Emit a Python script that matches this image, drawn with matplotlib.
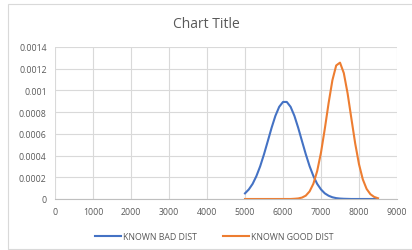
import matplotlib.pyplot as plt
from matplotlib.patches import Rectangle

# values
bad_x = [5000, 5100, 5200, 5300, 5400, 5500, 5600, 5700, 5800, 5900,
         6000, 6100, 6200, 6300, 6400, 6500, 6600, 6700, 6800, 6900,
         7000, 7100, 7200, 7300, 7400, 7500, 7600, 7700, 7800, 7900,
         8000, 8100, 8200, 8300, 8400, 8500]
bad_y = [0.000052, 0.000088, 0.000139, 0.000211, 0.000302, 0.000412,
         0.000533, 0.000656, 0.000766, 0.000849, 0.000894, 0.000894,
         0.000849, 0.000766, 0.000656, 0.000533, 0.000412, 0.000302,
         0.000211, 0.000139, 0.000088, 0.000052, 0.000030, 0.000016,
         0.000008, 0.000004, 0.000002, 0.000001, 0.0, 0.0,
         0.0, 0.0, 0.0, 0.0, 0.0, 0.0]

good_x = bad_x
good_y = [0.0, 0.0, 0.0, 0.0, 0.0, 0.0, 0.0, 0.0, 0.0, 0.0,
          0.0, 0.0, 0.0, 0.000002, 0.000005, 0.000013, 0.000031, 0.00007,
          0.000141, 0.000258, 0.000428, 0.000646, 0.000883, 0.001094,
          0.00123, 0.001256, 0.00116, 0.000973, 0.00074, 0.000511,
          0.00032, 0.000181, 0.000093, 0.000044, 0.000019, 0.000007]

x_ticks = [0, 1000, 2000, 3000, 4000, 5000, 6000, 7000, 8000, 9000]
y_ticks = [0, 0.0002, 0.0004, 0.0006, 0.0008, 0.001, 0.0012, 0.0014]
y_labels = ["0", "0.0002", "0.0004", "0.0006", "0.0008", "0.001", "0.0012", "0.0014"]

plt.rcParams["font.family"] = ["Open Sans", "DejaVu Sans"]
text_color = "#595959"

fig = plt.figure(figsize=(4.12, 2.51), dpi=100)
fig.patches.append(Rectangle((8 / 412, 0.005), 1.0, 1 - 5 / 251 - 0.005,
                             transform=fig.transFigure, fill=False,
                             edgecolor="#d9d9d9", linewidth=0.8))

ax = fig.add_axes([55 / 412, 1 - 200 / 251, 342 / 412, 152 / 251])
ax.plot(bad_x, bad_y, color="#4472c4", linewidth=1.5, label="KNOWN BAD DIST")
ax.plot(good_x, good_y, color="#ed7d31", linewidth=1.5, label="KNOWN GOOD DIST")

ax.set_xlim(0, 9000)
ax.set_ylim(0, 0.0014)
ax.set_xticks(x_ticks)
ax.set_yticks(y_ticks)
ax.set_yticklabels(y_labels)
ax.tick_params(length=0, labelsize=6.3, labelcolor=text_color, pad=6)
ax.grid(True, color="#d9d9d9", linewidth=0.8)
ax.set_axisbelow(True)
for side in ["top", "right", "left"]:
    ax.spines[side].set_visible(False)
ax.spines["bottom"].set_color("#bfbfbf")
ax.spines["bottom"].set_linewidth(0.8)

fig.text(0.5, 1 - 25 / 251, "Chart Title", ha="center", va="center",
         fontsize=10, color=text_color)

fig.legend(loc="center", bbox_to_anchor=(0.52, 1 - 238 / 251), ncol=2,
           frameon=False, fontsize=6.3, handlelength=3.0, columnspacing=3,
           labelcolor=text_color, handletextpad=0.2)

fig.savefig("out.png", dpi=100)
